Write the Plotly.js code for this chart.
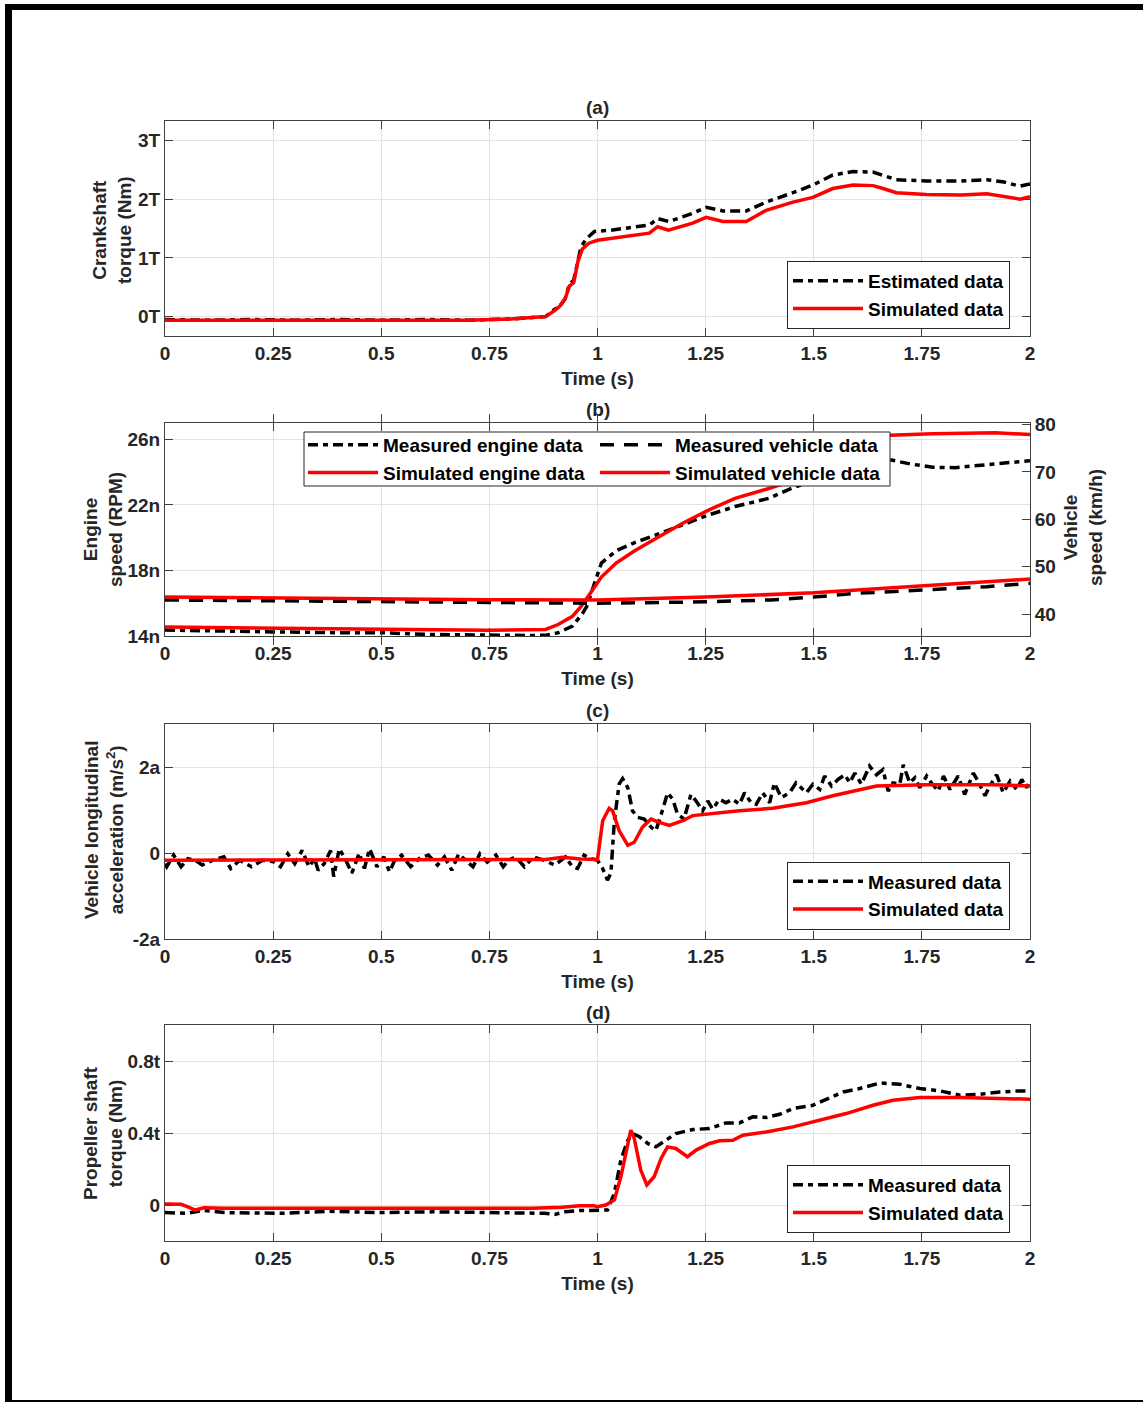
<!DOCTYPE html>
<html>
<head>
<meta charset="utf-8">
<script src="https://cdn.plot.ly/plotly-3.0.1.min.js"></script>
<style>
  html, body { margin: 0; padding: 0; background: #fff; }
  #wrap { position: relative; width: 1143px; height: 1402px; }
  #chart { position: absolute; left: 0; top: 0; width: 1143px; height: 1402px; }
  #frame { position: absolute; left: 5px; top: 4px; width: 1138px; height: 1398px; box-sizing: border-box;
           border-top: 6px solid #000; border-left: 7px solid #000; border-bottom: 2px solid #000; pointer-events: none; }
</style>
</head>
<body>
<div id="wrap"><div id="chart"></div><div id="frame"></div></div>
<script>
// ---------- Data ----------
// shared time ticks
const timeTickVals = [0, 0.25, 0.5, 0.75, 1, 1.25, 1.5, 1.75, 2];
const timeTickText = ["0", "0.25", "0.5", "0.75", "1", "1.25", "1.5", "1.75", "2"];

// (a) Crankshaft torque (units of T)
const aEstT = [0, 0.1, 0.2, 0.3, 0.4, 0.5, 0.6, 0.7, 0.8, 0.85, 0.88, 0.9, 0.912, 0.925, 0.935, 0.945, 0.955, 0.962, 0.975, 0.993, 1.03, 1.066, 1.1, 1.12, 1.139, 1.164, 1.19, 1.22, 1.251, 1.29, 1.344, 1.39, 1.452, 1.498, 1.544, 1.591, 1.637, 1.66, 1.691, 1.76, 1.84, 1.9, 1.94, 1.977, 2.0];
const aEstV = [-0.05, -0.06, -0.05, -0.06, -0.05, -0.06, -0.05, -0.06, -0.04, -0.01, 0.0, 0.12, 0.17, 0.3, 0.55, 0.62, 0.95, 1.19, 1.33, 1.45, 1.47, 1.5, 1.53, 1.56, 1.67, 1.62, 1.68, 1.76, 1.86, 1.8, 1.8, 1.95, 2.11, 2.24, 2.41, 2.47, 2.46, 2.41, 2.33, 2.31, 2.31, 2.33, 2.29, 2.22, 2.26];
const aSimT = [0, 0.1, 0.2, 0.3, 0.4, 0.5, 0.6, 0.7, 0.8, 0.85, 0.88, 0.9, 0.912, 0.925, 0.935, 0.945, 0.955, 0.965, 0.98, 1.0, 1.066, 1.12, 1.139, 1.164, 1.22, 1.251, 1.29, 1.344, 1.39, 1.452, 1.498, 1.544, 1.591, 1.637, 1.66, 1.691, 1.76, 1.84, 1.9, 1.94, 1.977, 2.0];
const aSimV = [-0.06, -0.06, -0.06, -0.06, -0.06, -0.06, -0.06, -0.06, -0.04, -0.02, 0.0, 0.1, 0.17, 0.3, 0.52, 0.58, 0.95, 1.15, 1.25, 1.3, 1.36, 1.42, 1.53, 1.47, 1.59, 1.69, 1.62, 1.62, 1.81, 1.95, 2.03, 2.18, 2.24, 2.23, 2.18, 2.11, 2.08, 2.07, 2.09, 2.05, 2.0, 2.04];
const aTickVals = [0, 1, 2, 3];
const aTickText = ["0T", "1T", "2T", "3T"];

// (b) Engine speed (units of n) and vehicle speed (km/h)
const bEngMeasT = [0, 0.1, 0.25, 0.4, 0.5, 0.6, 0.75, 0.85, 0.88, 0.909, 0.942, 0.966, 0.975, 0.99, 1.009, 1.043, 1.086, 1.138, 1.198, 1.258, 1.318, 1.396, 1.447, 1.48, 1.52, 1.56, 1.6, 1.64, 1.676, 1.723, 1.775, 1.826, 1.878, 1.947, 2.0];
const bEngMeasV = [14.36, 14.3, 14.25, 14.2, 14.2, 14.1, 14.04, 14.03, 14.05, 14.2, 14.6, 15.4, 15.8, 17.0, 18.45, 19.2, 19.7, 20.2, 20.8, 21.4, 21.9, 22.4, 23.0, 23.3, 23.8, 24.3, 24.7, 24.9, 24.76, 24.5, 24.3, 24.27, 24.4, 24.6, 24.7];
const bEngSimT = [0, 0.25, 0.5, 0.75, 0.88, 0.909, 0.942, 0.962, 0.983, 1.009, 1.043, 1.086, 1.138, 1.198, 1.258, 1.318, 1.396, 1.43, 1.5, 1.55, 1.6, 1.65, 1.676, 1.775, 1.92, 2.0];
const bEngSimV = [14.55, 14.5, 14.45, 14.35, 14.4, 14.7, 15.2, 15.8, 16.6, 17.6, 18.45, 19.2, 20.0, 20.9, 21.7, 22.4, 23.0, 23.3, 24.3, 25.1, 25.7, 26.1, 26.25, 26.35, 26.4, 26.3];
const bVehMeasT = [0, 0.25, 0.5, 0.75, 1.0, 1.25, 1.4, 1.5, 1.6, 1.75, 1.9, 2.0];
const bVehMeasV = [43.0, 42.8, 42.65, 42.5, 42.3, 42.6, 43.0, 43.6, 44.4, 45.1, 45.8, 46.5];
const bVehSimT = [0, 0.25, 0.5, 0.75, 1.0, 1.25, 1.5, 1.75, 2.0];
const bVehSimV = [43.6, 43.4, 43.15, 43.05, 43.0, 43.6, 44.5, 45.9, 47.4];
const bLeftTickVals = [14, 18, 22, 26];
const bLeftTickText = ["14n", "18n", "22n", "26n"];
const bRightTickVals = [40, 50, 60, 70, 80];
const bRightTickText = ["40", "50", "60", "70", "80"];

// (c) Vehicle longitudinal acceleration (units of a)
const cMeasT = [0, 0.004, 0.02, 0.037, 0.053, 0.07, 0.086, 0.11, 0.136, 0.152, 0.173, 0.2, 0.226, 0.25, 0.267, 0.284, 0.3, 0.317, 0.333, 0.346, 0.354, 0.368, 0.383, 0.39, 0.403, 0.418, 0.432, 0.449, 0.461, 0.473, 0.49, 0.506, 0.519, 0.531, 0.547, 0.568, 0.588, 0.609, 0.63, 0.646, 0.663, 0.679, 0.695, 0.712, 0.728, 0.745, 0.765, 0.782, 0.794, 0.811, 0.831, 0.852, 0.877, 0.901, 0.926, 0.942, 0.954, 0.969, 0.985, 1.0, 1.012, 1.023, 1.031, 1.039, 1.05, 1.058, 1.07, 1.081, 1.093, 1.108, 1.124, 1.135, 1.151, 1.162, 1.174, 1.185, 1.2, 1.216, 1.228, 1.243, 1.255, 1.266, 1.282, 1.297, 1.313, 1.328, 1.34, 1.355, 1.367, 1.382, 1.398, 1.409, 1.425, 1.444, 1.459, 1.471, 1.483, 1.498, 1.514, 1.525, 1.541, 1.556, 1.572, 1.583, 1.595, 1.61, 1.629, 1.645, 1.66, 1.672, 1.683, 1.699, 1.707, 1.722, 1.734, 1.745, 1.761, 1.772, 1.788, 1.8, 1.815, 1.834, 1.849, 1.869, 1.88, 1.896, 1.907, 1.923, 1.938, 1.954, 1.969, 1.981, 1.992, 2.0];
const cMeasV = [-0.25, -0.32, -0.05, -0.32, -0.13, -0.17, -0.28, -0.17, -0.09, -0.36, -0.17, -0.32, -0.17, -0.2, -0.32, -0.02, -0.25, 0.06, -0.32, -0.13, -0.4, -0.25, 0.06, -0.55, 0.1, -0.17, -0.47, 0.0, -0.36, 0.1, -0.32, -0.09, -0.44, -0.17, -0.05, -0.32, -0.13, -0.05, -0.28, -0.09, -0.4, -0.02, -0.17, -0.32, -0.02, -0.21, -0.05, -0.32, -0.17, -0.09, -0.32, -0.09, -0.17, -0.28, -0.09, -0.32, -0.36, -0.05, -0.13, -0.17, -0.36, -0.63, -0.47, 0.75, 1.6, 1.73, 1.52, 0.98, 0.83, 0.79, 0.6, 0.52, 1.02, 1.4, 1.25, 0.9, 0.79, 1.36, 1.21, 0.98, 1.21, 1.02, 1.25, 1.17, 1.25, 1.13, 1.4, 1.17, 1.13, 1.4, 1.17, 1.63, 1.29, 1.4, 1.63, 1.52, 1.4, 1.6, 1.48, 1.79, 1.56, 1.71, 1.82, 1.63, 1.86, 1.6, 2.02, 1.82, 1.94, 1.44, 1.63, 1.6, 2.05, 1.63, 1.75, 1.52, 1.79, 1.63, 1.44, 1.79, 1.48, 1.79, 1.36, 1.86, 1.67, 1.33, 1.56, 1.82, 1.4, 1.67, 1.48, 1.71, 1.52, 1.67];
const cSimT = [0, 0.2, 0.4, 0.6, 0.8, 0.88, 0.92, 0.96, 1.0, 1.002, 1.012, 1.027, 1.035, 1.05, 1.07, 1.085, 1.104, 1.124, 1.143, 1.166, 1.197, 1.22, 1.266, 1.328, 1.405, 1.483, 1.544, 1.606, 1.645, 1.76, 1.915, 2.0];
const cSimV = [-0.17, -0.17, -0.17, -0.17, -0.17, -0.15, -0.1, -0.14, -0.15, 0.0, 0.75, 1.04, 0.98, 0.52, 0.18, 0.25, 0.6, 0.79, 0.71, 0.64, 0.75, 0.87, 0.92, 0.98, 1.04, 1.17, 1.33, 1.48, 1.56, 1.59, 1.59, 1.56];
const cTickVals = [-2, 0, 2];
const cTickText = ["-2a", "0", "2a"];

// (d) Propeller shaft torque (units of t)
const dMeasT = [0, 0.05, 0.09, 0.136, 0.27, 0.38, 0.5, 0.62, 0.75, 0.877, 0.901, 0.926, 0.959, 0.992, 1.0, 1.023, 1.039, 1.054, 1.07, 1.081, 1.097, 1.116, 1.135, 1.158, 1.181, 1.22, 1.259, 1.297, 1.328, 1.359, 1.39, 1.421, 1.452, 1.498, 1.529, 1.568, 1.606, 1.653, 1.699, 1.745, 1.792, 1.838, 1.884, 1.93, 1.977, 2.0];
const dMeasV = [-0.042, -0.046, -0.03, -0.042, -0.046, -0.035, -0.042, -0.038, -0.042, -0.046, -0.052, -0.037, -0.031, -0.028, -0.031, -0.028, 0.065, 0.25, 0.36, 0.397, 0.379, 0.342, 0.323, 0.36, 0.397, 0.419, 0.425, 0.456, 0.456, 0.49, 0.486, 0.504, 0.536, 0.554, 0.586, 0.628, 0.647, 0.678, 0.671, 0.647, 0.634, 0.61, 0.615, 0.628, 0.634, 0.634];
const dSimT = [0, 0.037, 0.053, 0.07, 0.09, 0.136, 0.3, 0.5, 0.7, 0.85, 0.918, 0.959, 0.992, 1.0, 1.019, 1.039, 1.054, 1.066, 1.077, 1.085, 1.1, 1.114, 1.131, 1.147, 1.162, 1.181, 1.208, 1.228, 1.259, 1.282, 1.313, 1.336, 1.39, 1.452, 1.514, 1.575, 1.637, 1.683, 1.745, 1.838, 2.0];
const dSimV = [0.006, 0.004, -0.01, -0.028, -0.015, -0.018, -0.018, -0.018, -0.018, -0.018, -0.013, -0.004, -0.004, -0.01, 0.0, 0.028, 0.157, 0.286, 0.416, 0.37, 0.194, 0.111, 0.157, 0.259, 0.323, 0.314, 0.268, 0.305, 0.342, 0.357, 0.36, 0.388, 0.406, 0.434, 0.471, 0.508, 0.554, 0.582, 0.597, 0.597, 0.588];
const dTickVals = [0, 0.4, 0.8];
const dTickText = ["0", "0.4t", "0.8t"];

// ---------- Styling / layout ----------
const W = 1143, H = 1402;
const FONT = "Liberation Sans, Arial, Helvetica, sans-serif";
const TXT = "#262626";
const FS = 19;
const px = v => v / W;
const py = v => 1 - v / H;
const xDom = [px(165), px(1030)];

const dashDot = "10px,5px,5px,5px";
const dashed = "14px,10px";
const LW = 3.5;

function line(x, y, name, color, dash, xa, ya, legend) {
  return { x: x, y: y, name: name, type: "scatter", mode: "lines",
           line: { color: color, width: LW, dash: dash },
           xaxis: xa, yaxis: ya, legend: legend, showlegend: true };
}

const traces = [
  line(aEstT, aEstV, "Estimated data", "#000000", dashDot, "x", "y", "legend"),
  line(aSimT, aSimV, "Simulated data", "#ff0000", "solid", "x", "y", "legend"),
  line(bEngMeasT, bEngMeasV, "Measured engine data", "#000000", dashDot, "x2", "y2", "legend2"),
  line(bEngSimT, bEngSimV, "Simulated engine data", "#ff0000", "solid", "x2", "y2", "legend2"),
  line(bVehMeasT, bVehMeasV, "Measured vehicle data", "#000000", dashed, "x2", "y3", "legend3"),
  line(bVehSimT, bVehSimV, "Simulated vehicle data", "#ff0000", "solid", "x2", "y3", "legend3"),
  line(cMeasT, cMeasV, "Measured data", "#000000", dashDot, "x3", "y4", "legend4"),
  line(cSimT, cSimV, "Simulated data", "#ff0000", "solid", "x3", "y4", "legend4"),
  line(dMeasT, dMeasV, "Measured data", "#000000", dashDot, "x4", "y5", "legend5"),
  line(dSimT, dSimV, "Simulated data", "#ff0000", "solid", "x4", "y5", "legend5")
];

const tickFont = { family: FONT, size: FS, weight: "bold", color: TXT };
const axisCommon = {
  showline: true, linecolor: "#404040", linewidth: 1,
  ticks: "inside", ticklen: 8, tickwidth: 1, tickcolor: "#404040",
  showgrid: true, gridcolor: "#e2e2e2", gridwidth: 1,
  zeroline: false, tickfont: tickFont, fixedrange: true
};
function xAxis(anchor) {
  return Object.assign({}, axisCommon, {
    domain: xDom, anchor: anchor, range: [0, 2],
    tickmode: "array", tickvals: timeTickVals, ticktext: timeTickText,
    mirror: "allticks",
    title: { text: "Time (s)", font: { family: FONT, size: FS, weight: "bold", color: TXT }, standoff: 8 }
  });
}
function yAxis(anchor, top, bottom, range, vals, text, mirror) {
  return Object.assign({}, axisCommon, {
    domain: [py(bottom), py(top)], anchor: anchor, range: range,
    tickmode: "array", tickvals: vals, ticktext: text, mirror: mirror
  });
}

const legendBase = {
  font: { family: FONT, size: FS, weight: "bold", color: "#000" },
  bgcolor: "#ffffff", bordercolor: "#262626", borderwidth: 1,
  itemwidth: 70, orientation: "v", tracegroupgap: 0
};

const layout = {
  width: W, height: H, margin: { l: 0, r: 0, t: 0, b: 0 },
  paper_bgcolor: "#ffffff", plot_bgcolor: "#ffffff",
  font: { family: FONT, color: TXT },
  xaxis: xAxis("y"),
  yaxis: yAxis("x", 121, 336, [-0.33, 3.33], aTickVals, aTickText, "allticks"),
  xaxis2: xAxis("y2"),
  yaxis2: yAxis("x2", 423, 636, [14, 27], bLeftTickVals, bLeftTickText, false),
  yaxis3: Object.assign({}, axisCommon, {
    overlaying: "y2", side: "right", anchor: "x2", range: [35.4, 80.3],
    tickmode: "array", tickvals: bRightTickVals, ticktext: bRightTickText, showgrid: false
  }),
  xaxis3: xAxis("y4"),
  yaxis4: yAxis("x3", 724, 939, [-2, 3], cTickVals, cTickText, "allticks"),
  xaxis4: xAxis("y5"),
  yaxis5: yAxis("x4", 1025, 1241, [-0.2, 1.0], dTickVals, dTickText, "allticks"),
  legend: Object.assign({}, legendBase, { x: px(1010), xanchor: "right", y: py(295), yanchor: "middle" }),
  legend2: Object.assign({}, legendBase, { x: px(303), xanchor: "left", y: py(459), yanchor: "middle", bgcolor: "rgba(0,0,0,0)", borderwidth: 0 }),
  legend3: Object.assign({}, legendBase, { x: px(595), xanchor: "left", y: py(459), yanchor: "middle", bgcolor: "rgba(0,0,0,0)", borderwidth: 0 }),
  legend4: Object.assign({}, legendBase, { x: px(1010), xanchor: "right", y: py(895.5), yanchor: "middle" }),
  legend5: Object.assign({}, legendBase, { x: px(1010), xanchor: "right", y: py(1199), yanchor: "middle" }),
  shapes: [
    { type: "rect", xref: "paper", yref: "paper", x0: px(304), x1: px(890), y0: py(486), y1: py(432),
      fillcolor: "#ffffff", line: { color: "#262626", width: 1 }, layer: "above" }
  ],
  annotations: []
};

const annFont = { family: FONT, size: FS, weight: "bold", color: TXT };
function ann(text, x, y, angle) {
  return { text: text, xref: "paper", yref: "paper", x: px(x), y: py(y), showarrow: false,
           xanchor: "center", yanchor: "middle", textangle: angle || 0, font: annFont };
}
layout.annotations.push(
  ann("(a)", 598, 107), ann("(b)", 598, 409), ann("(c)", 598, 710), ann("(d)", 598, 1012),
  ann("Crankshaft<br>torque (Nm)", 112, 230, -90),
  ann("Engine<br>speed (RPM)", 103, 530, -90),
  ann("Vehicle<br>speed (km/h)", 1083, 528, -90),
  ann("Vehicle longitudinal<br>acceleration (m/s<sup>2</sup>)", 104, 830, -90),
  ann("Propeller shaft<br>torque (Nm)", 103, 1133, -90)
);

Plotly.newPlot("chart", traces, layout, { staticPlot: true, displayModeBar: false });
</script>
</body>
</html>
